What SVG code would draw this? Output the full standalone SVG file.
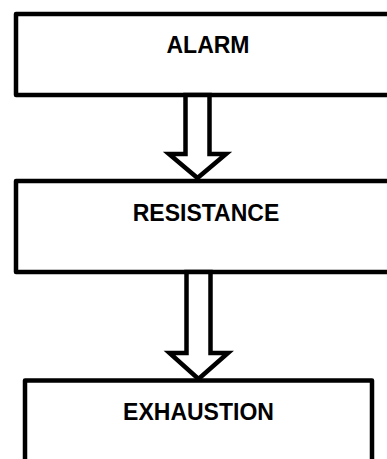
<svg xmlns="http://www.w3.org/2000/svg" width="387" height="459" viewBox="0 0 387 459">
<style>
.box{fill:#fff;stroke:#000;stroke-width:4.5;stroke-linejoin:round}
.arr{fill:#fff;stroke:#000;stroke-width:4.5;stroke-linejoin:miter}
.lbl{font-family:"Liberation Sans",Arial,sans-serif;font-weight:bold;font-size:23px;fill:#000;text-anchor:middle}
</style>
<rect width="387" height="459" fill="#fff"/>
<g id="alarm">
<rect class="box" x="16" y="14" width="390" height="81"/>
<text class="lbl" x="208" y="53">ALARM</text>
</g>
<g id="resistance">
<rect class="box" x="16" y="181" width="390" height="91"/>
<text class="lbl" x="206" y="221">RESISTANCE</text>
</g>
<g id="exhaustion">
<rect class="box" x="25" y="380.5" width="347" height="100"/>
<text class="lbl" x="198.5" y="420">EXHAUSTION</text>
</g>
<g id="connectors">
<polygon class="arr" points="185.5,95 185.5,154 169,154 197.5,178 226,154 209.5,154 209.5,95"/>
<polygon class="arr" points="186.5,272 186.5,353 169.5,353 198.5,379 228,353 210.5,353 210.5,272"/>
</g>
</svg>
